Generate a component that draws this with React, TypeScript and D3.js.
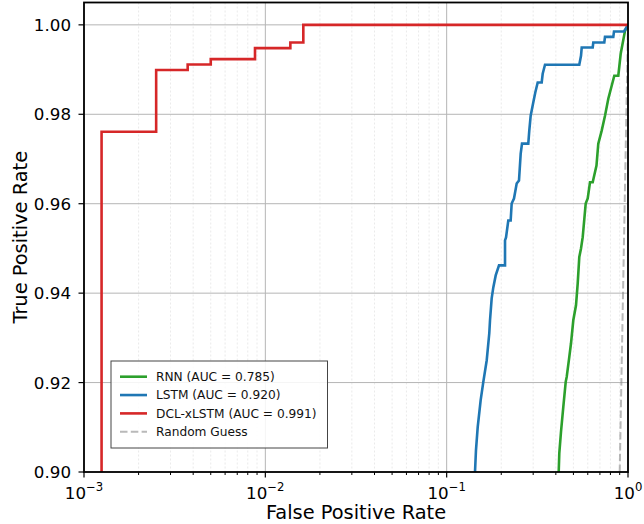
import React from "react";
import * as d3 from "d3";

// ROC curves (zoomed region, TPR 0.90 - 1.00)
const rnnFpr = [0.4148, 0.418, 0.4271, 0.4398, 0.4534, 0.4592, 0.4746, 0.485, 0.4993, 0.5167, 0.528, 0.5387, 0.5506, 0.5626, 0.5844, 0.5995, 0.6172, 0.6387, 0.6702, 0.6857, 0.7161, 0.7467, 0.7787, 0.8403, 0.8841, 0.9115, 0.9627, 1];
const rnnTpr = [0.9, 0.90424, 0.909, 0.91458, 0.92016, 0.92127, 0.92574, 0.92879, 0.93393, 0.93728, 0.94219, 0.94806, 0.95, 0.95252, 0.96004, 0.96116, 0.9648, 0.9648, 0.96853, 0.97344, 0.97634, 0.97969, 0.98348, 0.98862, 0.98862, 0.99353, 0.99866, 1];

const lstmFpr = [0.1433, 0.1451, 0.1483, 0.154, 0.1592, 0.1663, 0.1718, 0.1734, 0.1771, 0.1808, 0.1864, 0.1944, 0.2098, 0.2098, 0.2125, 0.2187, 0.2254, 0.2283, 0.2351, 0.2433, 0.2505, 0.256, 0.2603, 0.2819, 0.2855, 0.2906, 0.3003, 0.3081, 0.3177, 0.3342, 0.3385, 0.3486, 0.5387, 0.5506, 0.5556, 0.6387, 0.6436, 0.7401, 0.7467, 0.8296, 0.8371, 0.9504, 1];
const lstmTpr = [0.9, 0.90491, 0.91004, 0.91607, 0.92009, 0.925, 0.93103, 0.93393, 0.93884, 0.94129, 0.94397, 0.94621, 0.94621, 0.95179, 0.95246, 0.95625, 0.95625, 0.96004, 0.96116, 0.96451, 0.96518, 0.97121, 0.97344, 0.97344, 0.97634, 0.97969, 0.98266, 0.98489, 0.98712, 0.98712, 0.98906, 0.99107, 0.99107, 0.99308, 0.99493, 0.99493, 0.99605, 0.99605, 0.99732, 0.99732, 0.99851, 0.99851, 1];

const dclFpr = [0.00125, 0.00125, 0.0025, 0.0025, 0.00373, 0.00373, 0.005, 0.005, 0.00877, 0.00877, 0.01374, 0.01374, 0.0162, 0.0162, 1];
const dclTpr = [0.9, 0.9761, 0.9761, 0.9899, 0.9899, 0.99114, 0.99114, 0.99234, 0.99234, 0.9948, 0.9948, 0.99605, 0.99605, 1, 1];

const guessFpr = [0.9, 1];
const guessTpr = [0.9, 1];

const xTicks = [1e-3, 1e-2, 1e-1, 1];
const xTickExp = ["\u22123", "\u22122", "\u22121", "0"];
const yTicks = [0.9, 0.92, 0.94, 0.96, 0.98, 1.0];

const series = [
  { name: "RNN (AUC = 0.785)", fpr: rnnFpr, tpr: rnnTpr, color: "#2ca02c" },
  { name: "LSTM (AUC = 0.920)", fpr: lstmFpr, tpr: lstmTpr, color: "#1f77b4" },
  { name: "DCL-xLSTM (AUC = 0.991)", fpr: dclFpr, tpr: dclTpr, color: "#d62728" },
];

const W = 644;
const H = 524;
const left = 84;
const right = 628;
const top = 2.5;
const bottom = 472;
const font = "DejaVu Sans, sans-serif";

export default function App() {
  const x = d3.scaleLog().domain([1e-3, 1]).range([left, right]);
  const y = d3.scaleLinear().domain([0.9, 1.005]).range([bottom, top]);

  const line = d3
    .line<[number, number]>()
    .x((d) => x(d[0]))
    .y((d) => y(d[1]));

  const minor: number[] = [];
  for (let e = -3; e < 0; e++) {
    for (let k = 2; k <= 9; k++) minor.push(k * Math.pow(10, e));
  }

  const legendRows = [
    ...series.map((s) => ({ name: s.name, color: s.color, dash: "", op: 1, w: 2.6 })),
    { name: "Random Guess", color: "gray", dash: "7.5,3.3", op: 0.55, w: 2 },
  ];

  return (
    <svg
      width={W}
      height={H}
      style={{ position: "absolute", left: 0, top: 0, background: "#fff" }}
      fontFamily={font}
    >
      <defs>
        <clipPath id="plot">
          <rect x={left} y={top} width={right - left} height={bottom - top} />
        </clipPath>
      </defs>
      <rect x={0} y={0} width={W} height={H} fill="#fff" />

      {/* grid */}
      {minor.map((v) => (
        <line key={"mg" + v} x1={x(v)} x2={x(v)} y1={top} y2={bottom} stroke="#e4e4e4" strokeWidth={0.8} strokeDasharray="2,2" />
      ))}
      {xTicks.map((v) => (
        <line key={"gx" + v} x1={x(v)} x2={x(v)} y1={top} y2={bottom} stroke="#b5b5b5" strokeWidth={1} />
      ))}
      {yTicks.map((v) => (
        <line key={"gy" + v} x1={left} x2={right} y1={y(v)} y2={y(v)} stroke="#b5b5b5" strokeWidth={1} />
      ))}

      {/* curves */}
      <g clipPath="url(#plot)">
        {series.map((s) => (
          <path
            key={s.name}
            d={line(s.fpr.map((f, i) => [f, s.tpr[i]] as [number, number])) || ""}
            fill="none"
            stroke={s.color}
            strokeWidth={2.6}
          />
        ))}
        <path
          d={line(guessFpr.map((f, i) => [f, guessTpr[i]] as [number, number])) || ""}
          fill="none"
          stroke="gray"
          strokeOpacity={0.55}
          strokeWidth={2}
          strokeDasharray="7.5,3.3"
        />
      </g>

      {/* spines */}
      <rect x={left} y={top} width={right - left} height={bottom - top} fill="none" stroke="#000" strokeWidth={1.8} />

      {/* x ticks */}
      {minor.map((v) => (
        <line key={"mt" + v} x1={x(v)} x2={x(v)} y1={bottom} y2={bottom + 3} stroke="#000" strokeWidth={1} />
      ))}
      {xTicks.map((v, i) => (
        <g key={"xt" + v}>
          <line x1={x(v)} x2={x(v)} y1={bottom} y2={bottom + 5.5} stroke="#000" strokeWidth={1.2} />
          <text x={x(v)} y={499} textAnchor="middle" fontSize={16.7} fill="#000">
            <tspan>10</tspan>
            <tspan dy={-8} fontSize={11.7}>
              {xTickExp[i]}
            </tspan>
          </text>
        </g>
      ))}

      {/* y ticks */}
      {yTicks.map((v) => (
        <g key={"yt" + v}>
          <line x1={left - 5.5} x2={left} y1={y(v)} y2={y(v)} stroke="#000" strokeWidth={1.2} />
          <text x={71} y={y(v) + 6} textAnchor="end" fontSize={16.7} fill="#000">
            {v.toFixed(2)}
          </text>
        </g>
      ))}

      {/* axis labels */}
      <text x={(left + right) / 2} y={519} textAnchor="middle" fontSize={19.4} fill="#000">
        False Positive Rate
      </text>
      <text
        transform={`translate(27,${(top + bottom) / 2}) rotate(-90)`}
        textAnchor="middle"
        fontSize={19.4}
        fill="#000"
      >
        True Positive Rate
      </text>

      {/* legend */}
      <rect x={111} y={361} width={216.5} height={87} fill="#fff" fillOpacity={0.85} stroke="#444" strokeWidth={1} />
      {legendRows.map((r, i) => {
        const ry = 376.7 + i * 18.35;
        return (
          <g key={r.name}>
            <line x1={120} x2={147} y1={ry} y2={ry} stroke={r.color} strokeOpacity={r.op} strokeWidth={r.w} strokeDasharray={r.dash} />
            <text x={156} y={ry + 4.4} fontSize={12.2} fill="#111">
              {r.name}
            </text>
          </g>
        );
      })}
    </svg>
  );
}
